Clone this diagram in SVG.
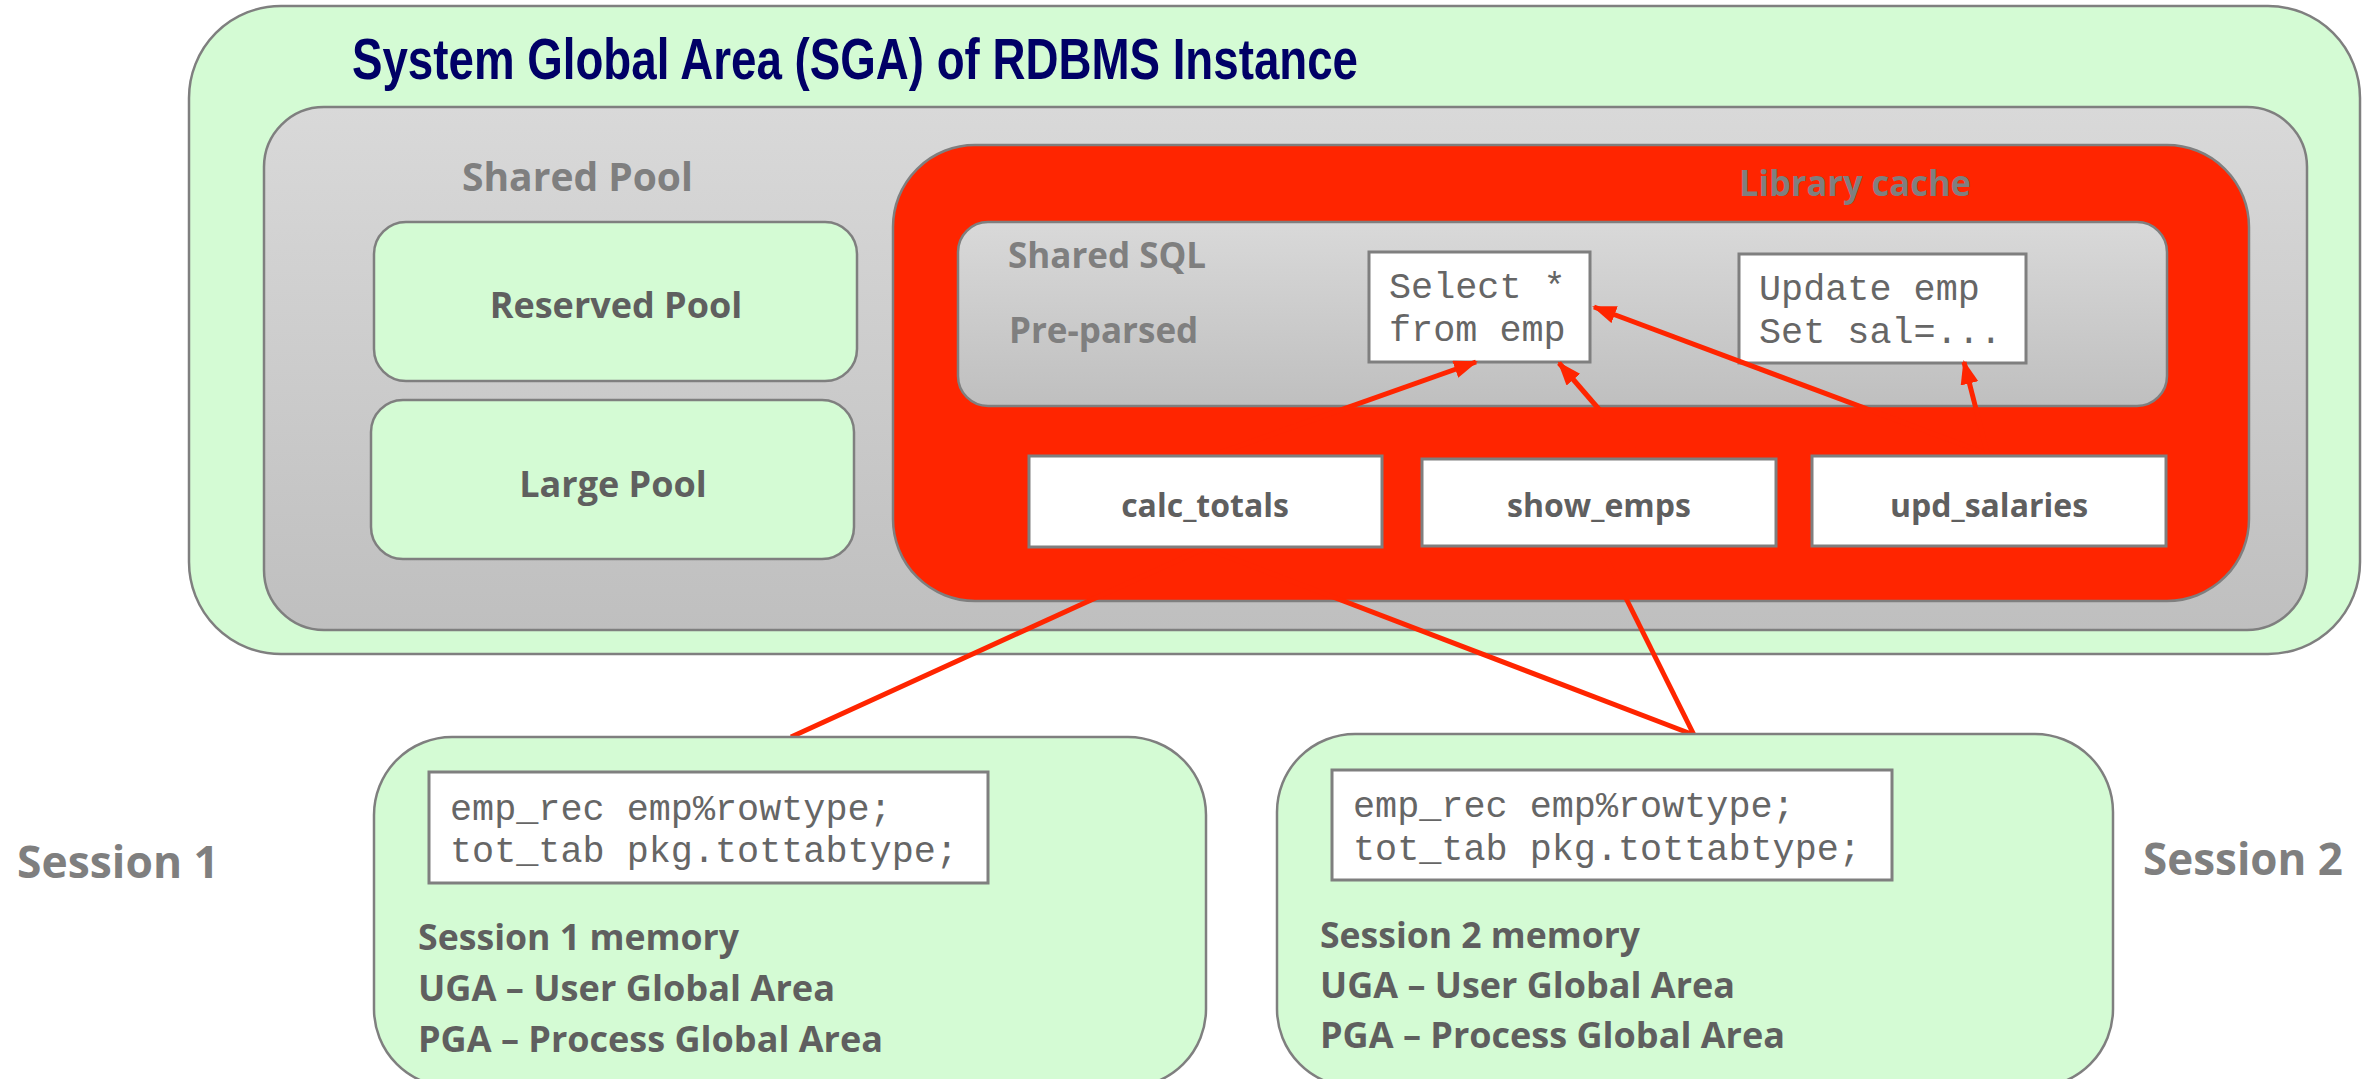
<svg xmlns="http://www.w3.org/2000/svg" width="2367" height="1079" viewBox="0 0 2367 1079">
<defs>
<linearGradient id="grayGrad" x1="0" y1="0" x2="0" y2="1">
<stop offset="0" stop-color="#d9d9d9"/>
<stop offset="1" stop-color="#bfbfbf"/>
</linearGradient>
<marker id="arrow" markerUnits="userSpaceOnUse" markerWidth="24" markerHeight="18" refX="22" refY="9" orient="auto">
<path d="M0,0 L24,9 L0,18 z" fill="#ff2500"/>
</marker>
</defs>
<style>
.green{fill:#d4fbd4;stroke:#7f7f7f;stroke-width:2.5}
.gray{fill:url(#grayGrad);stroke:#7f7f7f;stroke-width:2.5}
.red{fill:#ff2500;stroke:#7f7f7f;stroke-width:2.5}
.white{fill:#ffffff;stroke:#7f7f7f;stroke-width:3}
.lbl{font-family:"Open Sans","Noto Sans",sans-serif;font-weight:bold}
.light{fill:#7f7f7f}
.dark{fill:#5f5f5f}
.mono{font-family:"Liberation Mono","Courier New",monospace;font-size:36.8px;fill:#666666}
.conn{stroke:#ff2500;stroke-width:5;fill:none}
</style>
<rect width="2367" height="1079" fill="#ffffff"/>

<g id="sga">
<rect class="green" x="189" y="6" width="2171" height="648" rx="92" ry="92"/>
<text x="352" y="79" font-family="'Liberation Sans',Arial,sans-serif" font-weight="bold" font-size="57" fill="#000066" textLength="1006" lengthAdjust="spacingAndGlyphs">System Global Area (SGA) of RDBMS Instance</text>
</g>

<g id="shared-pool">
<rect class="gray" x="264" y="107" width="2043" height="523" rx="60" ry="60"/>
<text class="lbl light" x="462" y="191" font-size="39">Shared Pool</text>
</g>

<g id="reserved-pool">
<rect class="green" x="374" y="222" width="483" height="159" rx="32" ry="32"/>
<text class="lbl dark" x="616" y="318" font-size="36" text-anchor="middle">Reserved Pool</text>
</g>

<g id="large-pool">
<rect class="green" x="371" y="400" width="483" height="159" rx="32" ry="32"/>
<text class="lbl dark" x="613" y="497" font-size="36" text-anchor="middle">Large Pool</text>
</g>

<g id="library-cache">
<rect class="red" x="893" y="145" width="1356" height="456" rx="82" ry="82"/>
<text class="lbl light" x="1739" y="196" font-size="36" textLength="232" lengthAdjust="spacingAndGlyphs">Library cache</text>
</g>

<g id="shared-sql">
<rect class="gray" x="958" y="222" width="1209" height="184" rx="30" ry="30"/>
<text class="lbl light" x="1008" y="268" font-size="35">Shared SQL</text>
<text class="lbl light" x="1009" y="343" font-size="35">Pre-parsed</text>
</g>

<g id="sql-select">
<rect class="white" x="1369" y="252" width="221" height="110"/>
<text class="mono" x="1389" y="298">Select *</text>
<text class="mono" x="1389" y="341">from emp</text>
</g>

<g id="sql-update">
<rect class="white" x="1739" y="254" width="287" height="109"/>
<text class="mono" x="1759" y="300">Update emp</text>
<text class="mono" x="1759" y="343">Set sal=...</text>
</g>

<g id="connectors">
<line class="conn" x1="1208" y1="457" x2="1476" y2="362" marker-end="url(#arrow)"/>
<line class="conn" x1="1642" y1="459" x2="1559" y2="363" marker-end="url(#arrow)"/>
<line class="conn" x1="1993" y1="456" x2="1594" y2="307" marker-end="url(#arrow)"/>
<line class="conn" x1="1988" y1="456" x2="1964" y2="362" marker-end="url(#arrow)"/>
<line class="conn" x1="1205" y1="548" x2="791" y2="737"/>
<line class="conn" x1="1205" y1="548" x2="1694" y2="735"/>
<line class="conn" x1="1600" y1="546" x2="1694" y2="735"/>
</g>

<g id="calc-totals">
<rect class="white" x="1029" y="456" width="353" height="91"/>
<text class="lbl dark" x="1205" y="517" font-size="32" text-anchor="middle">calc_totals</text>
</g>

<g id="show-emps">
<rect class="white" x="1422" y="459" width="354" height="87"/>
<text class="lbl dark" x="1599" y="517" font-size="32" text-anchor="middle">show_emps</text>
</g>

<g id="upd-salaries">
<rect class="white" x="1812" y="456" width="354" height="90"/>
<text class="lbl dark" x="1989" y="517" font-size="32" text-anchor="middle">upd_salaries</text>
</g>

<g id="session1-label">
<text class="lbl light" x="17" y="878" font-size="45" textLength="202" lengthAdjust="spacingAndGlyphs">Session 1</text>
</g>

<g id="session1">
<rect class="green" x="374" y="737" width="832" height="350" rx="78" ry="78"/>
<rect class="white" x="429" y="772" width="559" height="111"/>
<text class="mono" x="450" y="820">emp_rec emp%rowtype;</text>
<text class="mono" x="450" y="862">tot_tab pkg.tottabtype;</text>
<text class="lbl dark" x="418" y="950" font-size="35" textLength="321" lengthAdjust="spacingAndGlyphs">Session 1 memory</text>
<text class="lbl dark" x="418" y="1001" font-size="35" textLength="417" lengthAdjust="spacingAndGlyphs">UGA – User Global Area</text>
<text class="lbl dark" x="418" y="1052" font-size="35" textLength="465" lengthAdjust="spacingAndGlyphs">PGA – Process Global Area</text>
</g>

<g id="session2">
<rect class="green" x="1277" y="734" width="836" height="353" rx="78" ry="78"/>
<rect class="white" x="1332" y="770" width="560" height="110"/>
<text class="mono" x="1353" y="817">emp_rec emp%rowtype;</text>
<text class="mono" x="1353" y="860">tot_tab pkg.tottabtype;</text>
<text class="lbl dark" x="1320" y="948" font-size="35" textLength="320" lengthAdjust="spacingAndGlyphs">Session 2 memory</text>
<text class="lbl dark" x="1320" y="998" font-size="35" textLength="415" lengthAdjust="spacingAndGlyphs">UGA – User Global Area</text>
<text class="lbl dark" x="1320" y="1048" font-size="35" textLength="465" lengthAdjust="spacingAndGlyphs">PGA – Process Global Area</text>
</g>

<g id="session2-label">
<text class="lbl light" x="2143" y="875" font-size="45" textLength="200" lengthAdjust="spacingAndGlyphs">Session 2</text>
</g>
</svg>
